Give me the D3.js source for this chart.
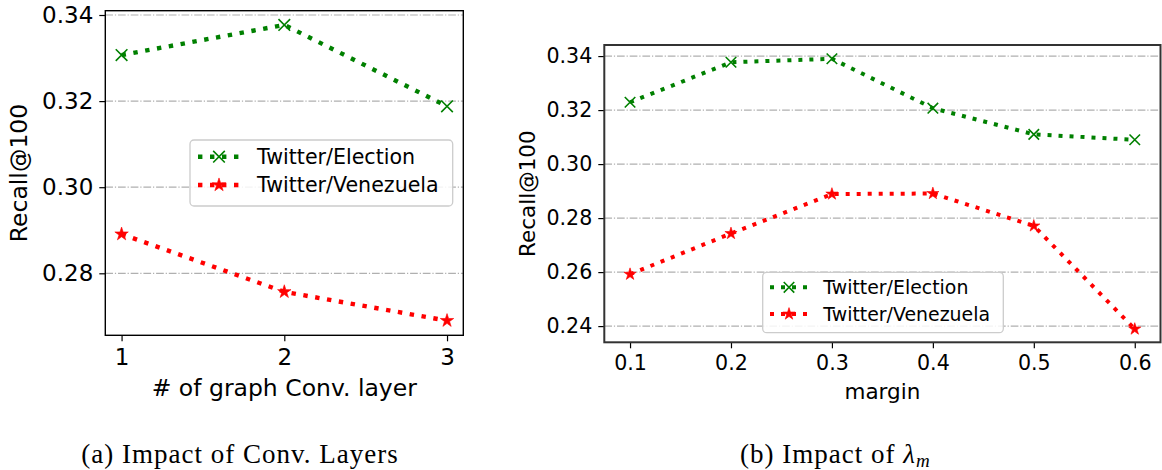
<!DOCTYPE html>
<html>
<head>
<meta charset="utf-8">
<script src="https://cdn.jsdelivr.net/npm/d3@7"></script>
<style>
  body { margin: 0; background: #fff; }
  svg { display: block; }
  text { font-family: "DejaVu Sans", sans-serif; }
</style>
</head>
<body>
<svg id="chart" width="1162" height="470"></svg>
<script>
// data
const seriesNames = ["Twitter/Election", "Twitter/Venezuela"];
const seriesColors = ["#008000", "#ff0000"];

const layers = [1, 2, 3];
const convElection = [0.3307, 0.3377, 0.3188];
const convVenezuela = [0.2891, 0.2757, 0.2690];
const convTicksY = [0.28, 0.30, 0.32, 0.34];

const margins = [0.1, 0.2, 0.3, 0.4, 0.5, 0.6];
const marginElection = [0.3229, 0.3377, 0.3390, 0.3207, 0.3110, 0.3090];
const marginVenezuela = [0.2592, 0.2743, 0.2889, 0.2891, 0.2771, 0.2389];
const marginTicksY = [0.24, 0.26, 0.28, 0.30, 0.32, 0.34];

const svg = d3.select("#chart");

function panel(opt) {
  const g = svg.append("g");
  const x = d3.scaleLinear().domain(opt.xDomain).range([opt.left, opt.right]);
  const y = d3.scaleLinear().domain(opt.yDomain).range([opt.bottom, opt.top]);

  // grid
  g.selectAll(".grid").data(opt.yTicks).enter().append("line")
    .attr("x1", opt.left).attr("x2", opt.right)
    .attr("y1", d => y(d)).attr("y2", d => y(d))
    .attr("stroke", "#b0b0b0").attr("stroke-width", 1.2)
    .attr("stroke-dasharray", "7.7,1.9,1.2,1.9");

  // axes
  const yAxis = g.append("g").attr("transform", "translate(" + opt.left + ",0)")
    .call(d3.axisLeft(y).tickValues(opt.yTicks).tickFormat(d3.format(".2f")).tickSize(6).tickPadding(6));
  const xAxis = g.append("g").attr("transform", "translate(0," + opt.bottom + ")")
    .call(d3.axisBottom(x).tickValues(opt.xTicks).tickFormat(opt.xFormat).tickSize(6).tickPadding(7));
  [xAxis, yAxis].forEach(a => {
    a.select(".domain").remove();
    a.selectAll("line").attr("stroke", "#000").attr("stroke-width", 1.2);
    a.selectAll("text").attr("fill", "#000").style("font-size", opt.tickFont + "px")
      .style("font-family", "DejaVu Sans");
  });

  // lines + markers
  const line = d3.line().x((d, i) => x(opt.xs[i])).y(d => y(d));
  opt.series.forEach((vals, k) => {
    g.append("path").attr("d", line(vals))
      .attr("fill", "none").attr("stroke", seriesColors[k])
      .attr("stroke-width", opt.lw).attr("stroke-dasharray", opt.dash);
    const sym = k === 0 ? d3.symbol(d3.symbolTimes, opt.xSize) : d3.symbol(d3.symbolStar, opt.starSize);
    g.selectAll(".m" + k).data(vals).enter().append("path")
      .attr("d", sym)
      .attr("transform", (d, i) => "translate(" + x(opt.xs[i]) + "," + y(d) + ")")
      .attr("fill", k === 0 ? "none" : seriesColors[k])
      .attr("stroke", seriesColors[k])
      .attr("stroke-width", k === 0 ? 1.6 : 0.6);
  });

  // frame
  g.append("rect").attr("x", opt.left).attr("y", opt.top)
    .attr("width", opt.right - opt.left).attr("height", opt.bottom - opt.top)
    .attr("fill", "none").attr("stroke", opt.frameColor).attr("stroke-width", opt.frameW);

  // labels
  g.append("text").attr("x", (opt.left + opt.right) / 2).attr("y", opt.xLabelY)
    .attr("text-anchor", "middle").style("font-size", opt.labelFont + "px").text(opt.xLabel);
  g.append("text").attr("transform", "translate(" + opt.yLabelX + "," + (opt.top + opt.bottom) / 2 + ") rotate(-90)")
    .attr("text-anchor", "middle").attr("dy", "0.35em").style("font-size", opt.labelFont + "px").text("Recall@100");

  // legend
  const L = opt.legend;
  const lg = g.append("g");
  lg.append("rect").attr("x", L.x).attr("y", L.y).attr("width", L.w).attr("height", L.h)
    .attr("rx", 4).attr("fill", "#fff").attr("fill-opacity", 0.85)
    .attr("stroke", "#cccccc").attr("stroke-width", 1.3);
  seriesNames.forEach((name, k) => {
    const cy = L.rows[k];
    lg.append("line").attr("x1", L.lx1).attr("x2", L.lx2).attr("y1", cy).attr("y2", cy)
      .attr("stroke", seriesColors[k]).attr("stroke-width", opt.lw).attr("stroke-dasharray", opt.dash);
    const sym = k === 0 ? d3.symbol(d3.symbolTimes, opt.xSize) : d3.symbol(d3.symbolStar, opt.starSize);
    lg.append("path").attr("d", sym)
      .attr("transform", "translate(" + (L.lx1 + L.lx2) / 2 + "," + cy + ")")
      .attr("fill", k === 0 ? "none" : seriesColors[k]).attr("stroke", seriesColors[k])
      .attr("stroke-width", k === 0 ? 1.6 : 0.6);
    lg.append("text").attr("x", L.tx).attr("y", cy).attr("dy", "0.36em")
      .style("font-size", L.font + "px").attr("fill", "#000").text(name);
  });
}

panel({
  left: 105.3, right: 463.3, top: 10.7, bottom: 335.3,
  xDomain: [0.9, 3.1], yDomain: [0.2656, 0.3410],
  xs: layers, series: [convElection, convVenezuela],
  xTicks: layers, xFormat: d3.format("d"), yTicks: convTicksY,
  tickFont: 23, labelFont: 23.5, lw: 4.4, dash: "4.4,7.6",
  xSize: 90, starSize: 56, frameColor: "#000", frameW: 1.4,
  xLabel: "# of graph Conv. layer", xLabelY: 396, yLabelX: 19,
  legend: { x: 190, y: 140, w: 262.7, h: 66, rows: [156.7, 185], lx1: 198, lx2: 240, tx: 257, font: 20.6 }
});

panel({
  left: 604.3, right: 1160.5, top: 45, bottom: 342.3,
  xDomain: [0.0745, 0.6255], yDomain: [0.2340, 0.3441],
  xs: margins, series: [marginElection, marginVenezuela],
  xTicks: margins, xFormat: d3.format(".1f"), yTicks: marginTicksY,
  tickFont: 20.6, labelFont: 21.5, lw: 4, dash: "4,7",
  xSize: 74, starSize: 46, frameColor: "#333", frameW: 2,
  xLabel: "margin", xLabelY: 398.5, yLabelX: 527,
  legend: { x: 762.7, y: 272.3, w: 240.6, h: 60.4, rows: [287.3, 314], lx1: 770, lx2: 808, tx: 823.3, font: 18.9 }
});

// captions
const captionA = "(a) Impact of Conv. Layers";
svg.append("text").attr("x", 240).attr("y", 463).attr("text-anchor", "middle")
  .style("font-family", "Liberation Serif, serif").style("font-size", "27px")
  .style("letter-spacing", "1px").text(captionA);
const capB = svg.append("text").attr("x", 740).attr("y", 463)
  .style("font-family", "Liberation Serif, serif").style("font-size", "27px")
  .style("letter-spacing", "1px");
capB.append("tspan").text("(b) Impact of ");
capB.append("tspan").style("font-style", "italic").text("λ");
capB.append("tspan").style("font-style", "italic").style("font-size", "19px").attr("dy", 4).text("m");
</script>
</body>
</html>
